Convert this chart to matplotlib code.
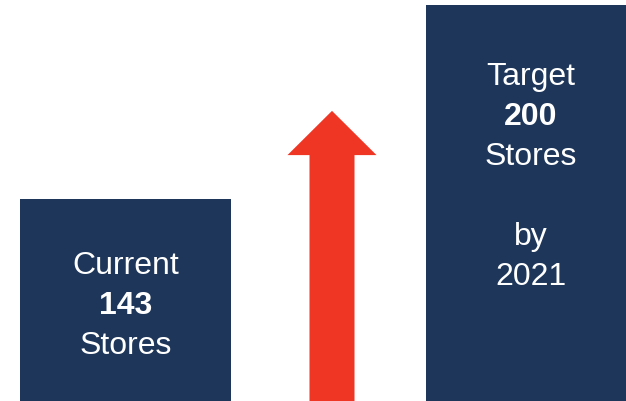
import matplotlib.pyplot as plt

# data
labels = ["Current", "Target"]
stores = [143, 200]
extra = [[], ["", "by", "2021"]]

navy = "#1D365A"
red = "#EF3524"

plt.rcParams['font.family'] = ['Liberation Sans', 'DejaVu Sans']

fig = plt.figure(figsize=(6.26, 4.01), dpi=100)
ax = fig.add_axes([0, 0, 1, 1])

# x in pixel-like units, y axis does not start at zero (as in the slide)
xc = [125.5, 531]
ax.bar(xc, stores, width=211, color=navy, bottom=0)
ax.set_xlim(0, 626)
ax.set_ylim(83.6, 201.5)
ax.axis('off')

# growth arrow between the bars
ax.arrow(332, 83.6, 0, 85.3, width=45, head_width=89, head_length=13,
         length_includes_head=True, color=red, lw=0)

#text inside the bars
for x, lab, v, ex in zip(xc, labels, stores, extra):
    lines = [(lab, 'normal'), (str(v), 'bold'), ("Stores", 'normal')] + [(e, 'normal') for e in ex]
    off0 = -75 if v < 150 else -80
    for i, (t, w) in enumerate(lines):
        ax.annotate(t, (x, v), xytext=(0, off0 - 40 * i), textcoords='offset pixels',
                    ha='center', va='baseline', color='white', fontsize=23, fontweight=w)

fig.savefig("out.png", dpi=100)
